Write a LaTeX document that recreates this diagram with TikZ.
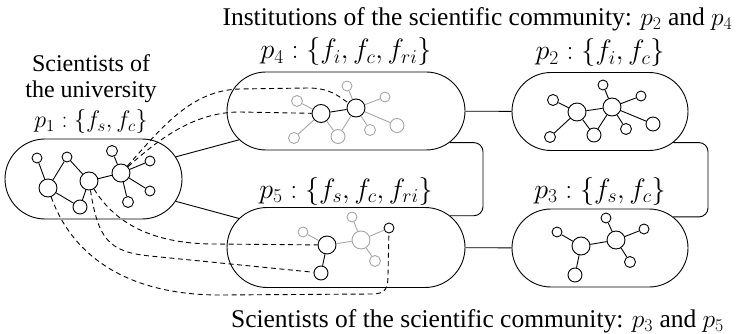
\RequirePackage{fix-cm}
\documentclass[tikz,border=0pt]{standalone}
\usepackage[no-math]{fontspec}
\setmainfont{Liberation Serif}
\usetikzlibrary{shapes.misc}
\begin{document}
\begin{tikzpicture}[x=1pt,y=-1pt,
  capsule/.style={draw, rounded rectangle, line width=0.9pt, minimum height=78pt, inner sep=0pt},
  vs/.style={circle, draw, line width=0.9pt, inner sep=0pt, minimum size=10pt},
  vm/.style={vs, minimum size=14pt},
  vb/.style={vs, minimum size=18pt},
  gry/.style={draw=gray!70},
  ed/.style={line width=0.9pt},
  ged/.style={line width=0.9pt, draw=gray!70},
  dsh/.style={line width=0.9pt, dash pattern=on 5pt off 3.5pt},
  lab/.style={anchor=base, inner sep=0pt, font=\fontsize{28}{32}\selectfont},
  ttl/.style={anchor=base, inner sep=0pt, font=\fontsize{25.5}{30}\selectfont},
  lft/.style={anchor=base, inner sep=0pt, font=\fontsize{24}{28}\selectfont}]
\useasboundingbox (0,0) rectangle (739,334);

% titles
\node[ttl] (ttop) at (477.5,25.5) {Institutions of the scientific community: $p_2$ and $p_4$};
\node[ttl] (tbot) at (477.5,327.5) {Scientists of the scientific community: $p_3$ and $p_5$};
\node[lft] (l1) at (91,72) {Scientists of};
\node[lft] (l2) at (91,98) {the university};
\node[lft] (l3) at (91,128) {$p_1 : \{f_s, f_c\}$};
\node[lab] (lp4) at (346,59) {$p_4 : \{f_i, f_c, f_{ri}\}$};
\node[lab] (lp2) at (600,60) {$p_2 : \{f_i, f_c\}$};
\node[lab] (lp5) at (346,198) {$p_5 : \{f_s, f_c, f_{ri}\}$};
\node[lab] (lp3) at (600,198) {$p_3 : \{f_s, f_c\}$};

% capsules
\node[capsule, minimum width=177pt, minimum height=80pt] (p1) at (93.5,179) {};
\node[capsule, minimum width=238pt] (p4) at (346,111) {};
\node[capsule, minimum width=238pt, minimum height=80pt] (p5) at (346,247.5) {};
\node[capsule, minimum width=176pt] (p2) at (600,111.5) {};
\node[capsule, minimum width=176pt] (p3) at (600,248) {};

% capsule connectors
\draw[ed] (p1) -- (p4);
\draw[ed] (p1) -- (p5);
\draw[ed] (p4) -- (p2);
\draw[ed] (p5) -- (p3);
\coordinate (k1) at (483,0);
\coordinate (k2) at (708,0);
\draw[ed, rounded corners=9pt] (p4.-17) -| (k1 |- p5.17) -- (p5.17);
\draw[ed, rounded corners=9pt] (p2.-23) -| (k2 |- p3.23) -- (p3.23);

% p1 graph
\node[vs] (A) at (37,158) {};
\node[vs] (B) at (67,157) {};
\node[vb] (C) at (48,188) {};
\node[vb] (D) at (89,181) {};
\node[vm] (E) at (80,207) {};
\node[vb] (F) at (121,173) {};
\node[vs, minimum size=11pt] (G) at (112,151) {};
\node[vs] (H) at (150,161) {};
\node[vs] (I) at (150,191) {};
\node[vs, minimum size=11pt] (J) at (128,202) {};
\draw[ed] (A) -- (C) (B) -- (C) (B) -- (D) (C) -- (E) (E) -- (D) (D) -- (F)
  (F) -- (G) (F) -- (H) (F) -- (I) (F) -- (J);

% p2 graph
\node[vs, minimum size=11pt] (q1) at (553,100) {};
\node[vb] (q2) at (577,112) {};
\node[vs, minimum size=11pt] (q3) at (550,137) {};
\node[vm] (q4) at (594,135) {};
\node[vb] (q5) at (612,107) {};
\node[vs] (q6) at (603,85) {};
\node[vs] (q7) at (641,96) {};
\node[vs, minimum size=11pt] (q8) at (626,129) {};
\node[vm] (q9) at (653,124) {};
\draw[ed] (q1) -- (q2) (q3) -- (q2) (q2) -- (q5) (q2) -- (q4) (q4) -- (q5)
  (q5) -- (q6) (q5) -- (q7) (q5) -- (q8) (q5) -- (q9);

% p4 graph
\node[vs, gry, minimum size=11pt] (r1) at (297,101) {};
\node[vb] (r2) at (321,113.5) {};
\node[vs, gry, minimum size=11pt] (r3) at (294,138) {};
\node[vm, gry] (r4) at (338,136.5) {};
\node[vb] (r5) at (356,108) {};
\node[vs, gry] (r6) at (347,86) {};
\node[vs, gry] (r7) at (385,97) {};
\node[vs, gry, minimum size=11pt] (r8) at (370,130) {};
\node[vm, gry] (r9) at (397,125.5) {};
\draw[ged] (r1) -- (r2) (r3) -- (r2) (r2) -- (r4) (r4) -- (r5)
  (r5) -- (r6) (r5) -- (r7) (r5) -- (r8) (r5) -- (r9);
\draw[ed] (r2) -- (r5);

% p3 graph
\node[vs] (s1) at (557,232) {};
\node[vb] (s2) at (581,246) {};
\node[vm] (s3) at (575,275) {};
\node[vb] (s4) at (616,240) {};
\node[vs] (s5) at (606,218) {};
\node[vs] (s6) at (644,229) {};
\node[vs, minimum size=11pt] (s7) at (630,262) {};
\draw[ed] (s1) -- (s2) (s2) -- (s3) (s2) -- (s4) (s4) -- (s5) (s4) -- (s6) (s4) -- (s7);

% p5 graph
\node[vs, gry] (t1) at (303,232) {};
\node[vb] (t2) at (327,245) {};
\node[vm] (t3) at (321,273) {};
\node[vb, gry] (t4) at (361,240) {};
\node[vs, gry] (t5) at (352,217) {};
\node[vs] (t6) at (389,228) {};
\node[vs, gry, minimum size=11pt] (t7) at (375,261) {};
\draw[ged] (t1) -- (t2) (t2) -- (t4) (t4) -- (t5) (t4) -- (t6) (t4) -- (t7);
\draw[ed] (t2) -- (t3);

% dashed links
\draw[dsh] (F) .. controls (160,130) and (190,90) .. (240,89) -- (308,88) .. controls (330,88) and (338,96) .. (r5);
\draw[dsh] (F) .. controls (160,138) and (195,112) .. (240,112) -- (r2);
\draw[dsh] (D) .. controls (112,218) and (145,244) .. (215,244) -- (t2);
\draw[dsh] (D) .. controls (98,238) and (108,252) .. (150,256) -- (t3);
\draw[dsh] (C) .. controls (70,250) and (120,295) .. (220,295) -- (372,294) .. controls (386,294) and (388,288) .. (388,275) -- (t6);
\end{tikzpicture}
\end{document}
